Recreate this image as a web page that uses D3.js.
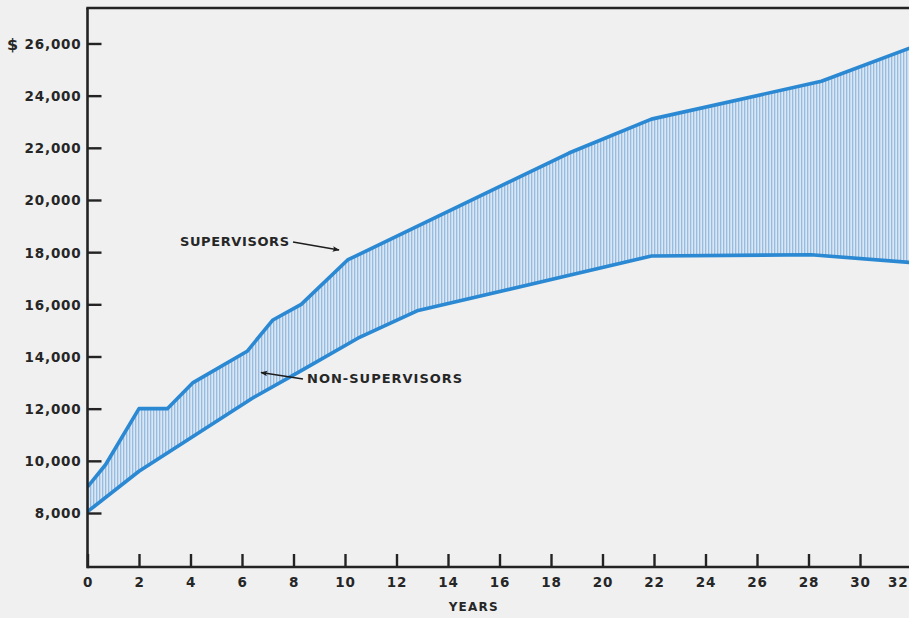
<!DOCTYPE html>
<html>
<head>
<meta charset="utf-8">
<script src="https://cdn.jsdelivr.net/npm/d3@7"></script>
<style>
  html, body { margin: 0; padding: 0; background: #eff0ef; }
  svg { display: block; }
  text { font-family: "DejaVu Sans", sans-serif; fill: #262626; }
</style>
</head>
<body>
<svg id="chart" width="909" height="618"></svg>
<script>
// ---- data ----
const supYears  = [0, 0.7, 2, 3.1, 4.1, 6.2, 7.2, 8.3, 10.1, 18.7, 21.9, 28.5, 32];
const supValues = [9000, 9850, 12000, 12000, 13000, 14200, 15400, 16000, 17700, 21800, 23100, 24550, 25850];
const lowYears  = [0, 2, 4.2, 6.4, 8.2, 10.5, 12.8, 21.9, 28.1, 32];
const lowValues = [8050, 9600, 11000, 12400, 13400, 14700, 15750, 17850, 17900, 17600];
const yTickValues = [8000, 10000, 12000, 14000, 16000, 18000, 20000, 22000, 24000, 26000];
const xTickValues = [0, 2, 4, 6, 8, 10, 12, 14, 16, 18, 20, 22, 24, 26, 28, 30, 32];
const xTitle = "YEARS";
const supLabel = "SUPERVISORS";
const lowLabel = "NON-SUPERVISORS";

const svg = d3.select("#chart");
const W = 909, H = 618;

const x = d3.scaleLinear().domain([0, 32]).range([87.5, 911.5]);
const y = d3.scaleLinear().domain([5930, 27360]).range([567, 8]);

const sup = supYears.map((t, i) => ({t, v: supValues[i]}));
const low = lowYears.map((t, i) => ({t, v: lowValues[i]}));

// hatch pattern
const defs = svg.append("defs");
const pat = defs.append("pattern")
  .attr("id", "hatch").attr("patternUnits", "userSpaceOnUse")
  .attr("width", 3).attr("height", 10);
pat.append("rect").attr("width", 3).attr("height", 10).attr("fill", "#d9e7f4");
pat.append("rect").attr("x", 0).attr("width", 1.3).attr("height", 10).attr("fill", "#98bbe0");

defs.append("marker").attr("id", "arrow")
  .attr("viewBox", "0 0 10 10").attr("refX", 9).attr("refY", 5)
  .attr("markerWidth", 9).attr("markerHeight", 7).attr("orient", "auto")
  .attr("markerUnits", "userSpaceOnUse")
  .append("path").attr("d", "M0,1 L10,5 L0,9 L2,5 Z").attr("fill", "#1e1e1e");

// band between the two series, built by interpolating each series at a shared set of years
const allYears = Array.from(new Set(supYears.concat(lowYears))).sort((a, b) => a - b);
function interp(years, vals, t) {
  for (let i = 0; i < years.length - 1; i++) {
    if (t >= years[i] && t <= years[i + 1]) {
      const f = (t - years[i]) / (years[i + 1] - years[i]);
      return vals[i] + f * (vals[i + 1] - vals[i]);
    }
  }
  return vals[vals.length - 1];
}
const band = allYears.map(t => ({t, hi: interp(supYears, supValues, t), lo: interp(lowYears, lowValues, t)}));

const clip = defs.append("clipPath").attr("id", "plotclip");
clip.append("rect").attr("x", x(0)).attr("y", 0).attr("width", W - x(0)).attr("height", H);

const g = svg.append("g").attr("clip-path", "url(#plotclip)");

g.append("path").datum(band)
  .attr("d", d3.area().x(d => x(d.t)).y0(d => y(d.lo)).y1(d => y(d.hi)))
  .attr("fill", "url(#hatch)");

const line = d3.line().x(d => x(d.t)).y(d => y(d.v));
[sup, low].forEach(s => {
  g.append("path").datum(s).attr("d", line)
    .attr("fill", "none").attr("stroke", "#2b88d2")
    .attr("stroke-width", 3.6).attr("stroke-linejoin", "round");
});

// axes
const axisColor = "#232323";
const yAxis = d3.axisLeft(y).tickValues(yTickValues).tickSize(-14).tickPadding(20)
  .tickFormat(d3.format(","));
const yg = svg.append("g").attr("transform", `translate(${x(0)},0)`).call(yAxis);
yg.select(".domain").remove();
yg.selectAll(".tick line").attr("stroke", axisColor).attr("stroke-width", 2.4);
yg.selectAll(".tick text").attr("x", -6).attr("dy", "0.36em")
  .style("font-size", "13.5px").style("font-weight", "bold").style("letter-spacing", "0.8px")
  .attr("fill", "#2a2a2a");

const xAxis = d3.axisBottom(x).tickValues(xTickValues).tickSize(-13).tickPadding(0)
  .tickFormat(d3.format("d"));
const xg = svg.append("g").attr("transform", `translate(0,${y(5930)})`).call(xAxis);
xg.select(".domain").remove();
xg.selectAll(".tick line").attr("stroke", axisColor).attr("stroke-width", 2.4);
xg.selectAll(".tick text").attr("y", 20).attr("dy", 0)
  .style("font-size", "13.5px").style("font-weight", "bold").style("letter-spacing", "0.8px")
  .attr("fill", "#2a2a2a");
// keep the last label inside the picture
xg.selectAll(".tick text").filter(d => d === 32).attr("text-anchor", "end").attr("x", 908 - x(32));

// frame: left axis, bottom axis, top line
svg.append("line").attr("x1", x(0)).attr("x2", x(0)).attr("y1", y(27360)).attr("y2", y(5930) + 1.2)
  .attr("stroke", axisColor).attr("stroke-width", 2.6);
svg.append("line").attr("x1", x(0)).attr("x2", W).attr("y1", y(5930)).attr("y2", y(5930))
  .attr("stroke", axisColor).attr("stroke-width", 2.6);
svg.append("line").attr("x1", x(0) - 1.2).attr("x2", W).attr("y1", y(27360)).attr("y2", y(27360))
  .attr("stroke", axisColor).attr("stroke-width", 2.6);

// dollar sign
svg.append("text").attr("x", 7).attr("y", y(26000)).attr("dy", "0.38em")
  .style("font-size", "16px").style("font-weight", "bold").attr("fill", "#2a2a2a").text("$");

// x title
svg.append("text").attr("x", (x(14) + x(16)) / 2).attr("y", 611)
  .attr("text-anchor", "middle").style("font-size", "12px").style("font-weight", "bold")
  .style("letter-spacing", "1.2px").attr("fill", "#2a2a2a")
  .text(xTitle);

// annotations
svg.append("text").attr("x", 180).attr("y", 246)
  .style("font-size", "13px").style("font-weight", "bold").style("letter-spacing", "0.6px")
  .attr("fill", "#2a2a2a").text(supLabel);
svg.append("line").attr("x1", 293).attr("y1", 242).attr("x2", 339).attr("y2", 250)
  .attr("stroke", "#1e1e1e").attr("stroke-width", 1.6).attr("marker-end", "url(#arrow)");

svg.append("text").attr("x", 307).attr("y", 383)
  .style("font-size", "13px").style("font-weight", "bold").style("letter-spacing", "1px")
  .attr("fill", "#2a2a2a").text(lowLabel);
svg.append("line").attr("x1", 303).attr("y1", 379).attr("x2", 261).attr("y2", 372.5)
  .attr("stroke", "#1e1e1e").attr("stroke-width", 1.6).attr("marker-end", "url(#arrow)");
</script>
</body>
</html>
